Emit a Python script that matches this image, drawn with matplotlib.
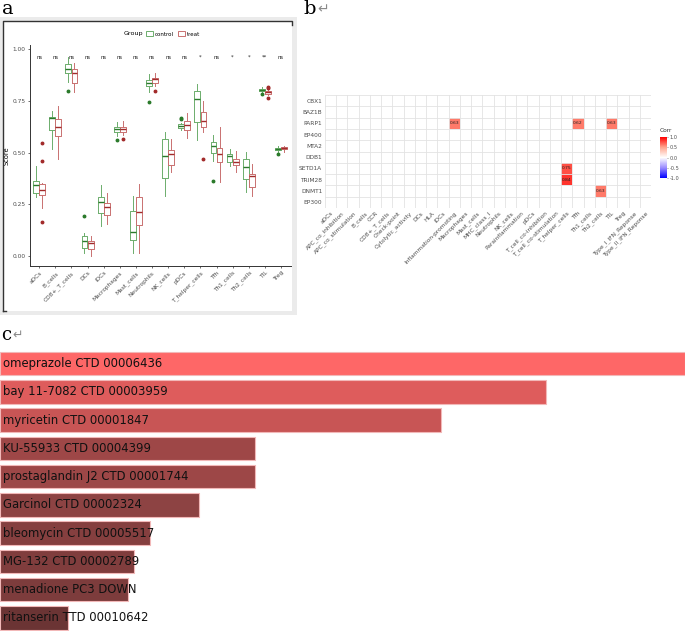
import numpy as np
import matplotlib
matplotlib.use("Agg")
import matplotlib.pyplot as plt
from matplotlib.colors import LinearSegmentedColormap
from matplotlib.patches import Rectangle, Patch
from matplotlib.lines import Line2D

W, H = 685, 631

# ---------------- panel a data (box stats) ----------------
cells = ["aDCs", "B_cells", "CD8+_T_cells", "DCs", "iDCs", "Macrophages",
         "Mast_cells", "Neutrophils", "NK_cells", "pDCs", "T_helper_cells",
         "Tfh", "Th1_cells", "Th2_cells", "TIL", "Treg"]
signif = ["ns", "ns", "ns", "ns", "ns", "ns", "ns", "ns", "ns", "ns",
          "*", "ns", "*", "*", "**", "ns"]
# columns: whisker low, q1, median, q3, whisker high
ctrl_stats = [
    (0.285, 0.307, 0.343, 0.361, 0.437), (0.515, 0.607, 0.665, 0.673, 0.700),
    (0.843, 0.887, 0.903, 0.927, 0.960), (0.013, 0.037, 0.073, 0.097, 0.110),
    (0.147, 0.207, 0.260, 0.285, 0.345), (0.580, 0.600, 0.612, 0.623, 0.647),
    (0.013, 0.078, 0.115, 0.218, 0.288), (0.795, 0.822, 0.838, 0.851, 0.879),
    (0.291, 0.377, 0.482, 0.568, 0.599), (0.608, 0.620, 0.628, 0.636, 0.644),
    (0.563, 0.647, 0.757, 0.798, 0.830), (0.461, 0.498, 0.531, 0.553, 0.584),
    (0.437, 0.455, 0.482, 0.495, 0.518), (0.312, 0.372, 0.429, 0.471, 0.502),
    (0.793, 0.798, 0.803, 0.809, 0.817), (0.505, 0.511, 0.518, 0.523, 0.531)]
ctrl_out = [[], [], [0.80], [0.196], [], [0.560], [], [0.746], [], [0.668, 0.662],
            [], [0.362], [], [], [0.782], [0.492]]
trt_stats = [
    (0.231, 0.293, 0.317, 0.348, 0.352), (0.471, 0.578, 0.625, 0.660, 0.725),
    (0.793, 0.838, 0.887, 0.906, 0.932), (0.000, 0.032, 0.061, 0.073, 0.097),
    (0.155, 0.200, 0.235, 0.256, 0.307), (0.584, 0.600, 0.612, 0.623, 0.652),
    (0.013, 0.150, 0.215, 0.285, 0.350), (0.822, 0.838, 0.854, 0.862, 0.887),
    (0.405, 0.442, 0.495, 0.511, 0.568), (0.571, 0.608, 0.634, 0.655, 0.693),
    (0.599, 0.625, 0.652, 0.697, 0.749), (0.359, 0.453, 0.494, 0.523, 0.623),
    (0.406, 0.440, 0.453, 0.471, 0.506), (0.288, 0.335, 0.385, 0.398, 0.447),
    (0.778, 0.785, 0.793, 0.798, 0.806), (0.505, 0.515, 0.521, 0.527, 0.531)]
trt_out = [[0.547, 0.458, 0.167], [], [], [], [], [0.568], [], [0.798], [], [],
           [0.471], [], [], [], [0.817, 0.811, 0.765], []]

# ---------------- panel b data ----------------
genes = ["CBX1", "BAZ1B", "PARP1", "EP400", "MTA2", "DDB1", "SETD1A",
         "TRIM28", "DNMT1", "EP300"]
features = ["aDCs", "APC_co_inhibition", "APC_co_stimulation", "B_cells", "CCR",
            "CD8+_T_cells", "Check-point", "Cytolytic_activity", "DCs", "HLA",
            "iDCs", "Inflammation-promoting", "Macrophages", "Mast_cells",
            "MHC_class_I", "Neutrophils", "NK_cells", "Parainflammation", "pDCs",
            "T_cell_co-inhibition", "T_cell_co-stimulation", "T_helper_cells",
            "Tfh", "Th1_cells", "Th2_cells", "TIL", "Treg",
            "Type_I_IFN_Reponse", "Type_II_IFN_Reponse"]
sig_genes = ["PARP1", "PARP1", "PARP1", "SETD1A", "TRIM28", "DNMT1"]
sig_feats = ["Inflammation-promoting", "Tfh", "TIL", "T_helper_cells",
             "T_helper_cells", "Th2_cells"]
sig_vals = [0.63, 0.62, 0.63, 0.75, 0.84, 0.63]

# ---------------- panel c data ----------------
drugs = ["omeprazole CTD 00006436", "bay 11-7082 CTD 00003959",
         "myricetin CTD 00001847", "KU-55933 CTD 00004399",
         "prostaglandin J2 CTD 00001744", "Garcinol CTD 00002324",
         "bleomycin CTD 00005517", "MG-132 CTD 00002789",
         "menadione PC3 DOWN", "ritanserin TTD 00010642"]
scores = [100.0, 79.7, 64.4, 37.2, 37.2, 29.0, 21.9, 19.6, 18.7, 9.9]
bar_colors = ["#fe6767", "#de5c5c", "#c85555", "#9e4747", "#9d4747",
              "#8d4343", "#853f3f", "#803d3d", "#7d3c3c", "#6b3434"]


def px(l, t, r, b):
    return [l / W, 1 - b / H, (r - l) / W, (b - t) / H]


fig = plt.figure(figsize=(W / 100, H / 100), dpi=100)

# panel labels
fig.text(2 / W, 1 - 14 / H, "a", family="DejaVu Serif", fontsize=14, va="baseline")
fig.text(303 / W, 1 - 14 / H, "b", family="DejaVu Serif", fontsize=14, va="baseline")
fig.text(317 / W, 1 - 13 / H, "\u21b5", fontsize=10, color="#8a8a8a", va="baseline")
fig.text(1 / W, 1 - 340 / H, "c", family="DejaVu Serif", fontsize=13, va="baseline")
fig.text(12 / W, 1 - 339 / H, "\u21b5", fontsize=9, color="#8a8a8a", va="baseline")

# frame around panel a (drawn behind the axes)
fig.patches.append(Rectangle((0, 1 - 315 / H), 297 / W, 298 / H, transform=fig.transFigure,
                             facecolor="#ebebeb", edgecolor="none", zorder=-2))
fig.patches.append(Rectangle((3 / W, 1 - 311 / H), 289 / W, 290 / H, transform=fig.transFigure,
                             facecolor="white", edgecolor="none", zorder=-1))
fig.lines.append(Line2D([3 / W, 3 / W, 292 / W, 292 / W],
                        [1 - 311 / H, 1 - 21 / H, 1 - 21 / H, 1 - 25 / H],
                        transform=fig.transFigure, color="#333333", lw=1.0))
fig.lines.append(Line2D([3 / W, 6 / W], [1 - 311 / H, 1 - 311 / H],
                        transform=fig.transFigure, color="#333333", lw=1.0))

# ---------------- panel a ----------------
ax = fig.add_axes(px(29.5, 45, 290.7, 266))
ax.patch.set_alpha(0)
green_edge, green_dark = "#6cad6c", "#2b7a2b"
red_edge, red_dark = "#c97070", "#a22b2b"
pos = np.arange(len(cells))
for stats, outs, off, ec, dc in [(ctrl_stats, ctrl_out, -0.19, green_edge, green_dark),
                                 (trt_stats, trt_out, 0.19, red_edge, red_dark)]:
    bx = [dict(whislo=s[0], q1=s[1], med=s[2], q3=s[3], whishi=s[4], fliers=o)
          for s, o in zip(stats, outs)]
    ax.bxp(bx, positions=pos + off, widths=0.36, showcaps=False, manage_ticks=False,
           boxprops=dict(color=ec, lw=0.7),
           whiskerprops=dict(color=ec, lw=0.7),
           medianprops=dict(color=dc, lw=1.0),
           flierprops=dict(marker="o", markersize=1.8, markerfacecolor=dc,
                           markeredgecolor=dc))
for i, s in enumerate(signif):
    ax.text(i, 0.962, s, ha="center", va="center", fontsize=3.8, color="#222222")
ax.set_xlim(-0.6, len(cells) - 0.4)
ax.set_ylim(-0.048, 1.02)
ax.set_yticks([0, 0.25, 0.5, 0.75, 1.0])
ax.set_yticklabels(["0.00", "0.25", "0.50", "0.75", "1.00"])
ax.set_xticks(pos)
ax.set_xticklabels(cells, rotation=45, ha="right", rotation_mode="anchor")
ax.tick_params(labelsize=4.2, length=1.5, width=0.5, pad=1.5, colors="#333333",
               labelcolor="#4d4d4d")
for sp in ["top", "right"]:
    ax.spines[sp].set_visible(False)
for sp in ["left", "bottom"]:
    ax.spines[sp].set_linewidth(0.7)
    ax.spines[sp].set_color("#333333")
ax.set_ylabel("Score", fontsize=4.8, labelpad=2)
fig.text(124 / W, 1 - 34 / H, "Group", fontsize=4.6, va="center")
fig.legend(handles=[Patch(facecolor="white", edgecolor=green_edge, lw=0.7, label="control"),
                    Patch(facecolor="white", edgecolor=red_edge, lw=0.7, label="treat")],
           loc="center left", bbox_to_anchor=(146 / W, 1 - 34 / H), ncol=2, frameon=False,
           fontsize=4.0, handlelength=1.2, handleheight=0.8, handletextpad=0.4,
           columnspacing=0.8, borderpad=0, borderaxespad=0)

# ---------------- panel b ----------------
axb = fig.add_axes(px(325, 95, 651, 208))
mat = np.full((len(genes), len(features)), np.nan)
for g, f, v in zip(sig_genes, sig_feats, sig_vals):
    mat[genes.index(g), features.index(f)] = v
cmap = LinearSegmentedColormap.from_list(
    "corr", [(0, "#0000ff"), (0.25, "#9b8cff"), (0.5, "#ffffff"),
             (0.75, "#ffa58e"), (1, "#ff0000")])
mesh = axb.pcolormesh(np.ma.masked_invalid(mat), cmap=cmap, vmin=-1, vmax=1, zorder=1)
for k in range(len(features) + 1):
    axb.axvline(k, color="#e3e3e3", lw=0.6, zorder=1.5)
for k in range(len(genes) + 1):
    axb.axhline(k, color="#e3e3e3", lw=0.6, zorder=1.5)
for g, f, v in zip(sig_genes, sig_feats, sig_vals):
    axb.text(features.index(f) + 0.5, genes.index(g) + 0.5, f"{v:.2f}", ha="center",
             va="center", fontsize=3.2, color="#222222", zorder=2)
axb.set_xlim(0, len(features))
axb.set_ylim(len(genes), 0)
axb.set_xticks(np.arange(len(features)) + 0.5)
axb.set_xticklabels(features, rotation=45, ha="right", rotation_mode="anchor")
axb.set_yticks(np.arange(len(genes)) + 0.5)
axb.set_yticklabels(genes)
axb.tick_params(labelsize=4.2, length=0, pad=2, labelcolor="#4d4d4d")
for sp in axb.spines.values():
    sp.set_visible(False)

cax = fig.add_axes(px(660, 137, 667, 178))
cb = fig.colorbar(mesh, cax=cax, ticks=[-1, -0.5, 0, 0.5, 1])
cb.outline.set_visible(False)
cb.ax.tick_params(labelsize=3.6, length=1, width=0.4, pad=1, colors="#4d4d4d")
cb.ax.set_yticklabels(["-1.0", "-0.5", "0.0", "0.5", "1.0"])
fig.text(660 / W, 1 - 131 / H, "Corr", fontsize=4.2, color="#333333", va="center")

# ---------------- panel c ----------------
axc = fig.add_axes(px(0, 349.5, 685, 632))
yy = np.arange(len(drugs))
axc.barh(yy, scores, height=0.83, color=bar_colors, edgecolor="#f2b8b8", lw=0.8)
for y, name in zip(yy, drugs):
    axc.text(scores[0] * 0.004, y, name, va="center", ha="left", fontsize=8.4,
             color="#111111")
axc.set_xlim(0, scores[0])
axc.set_ylim(len(drugs) - 0.5, -0.5)
axc.axis("off")

fig.savefig("out.png", dpi=100)
